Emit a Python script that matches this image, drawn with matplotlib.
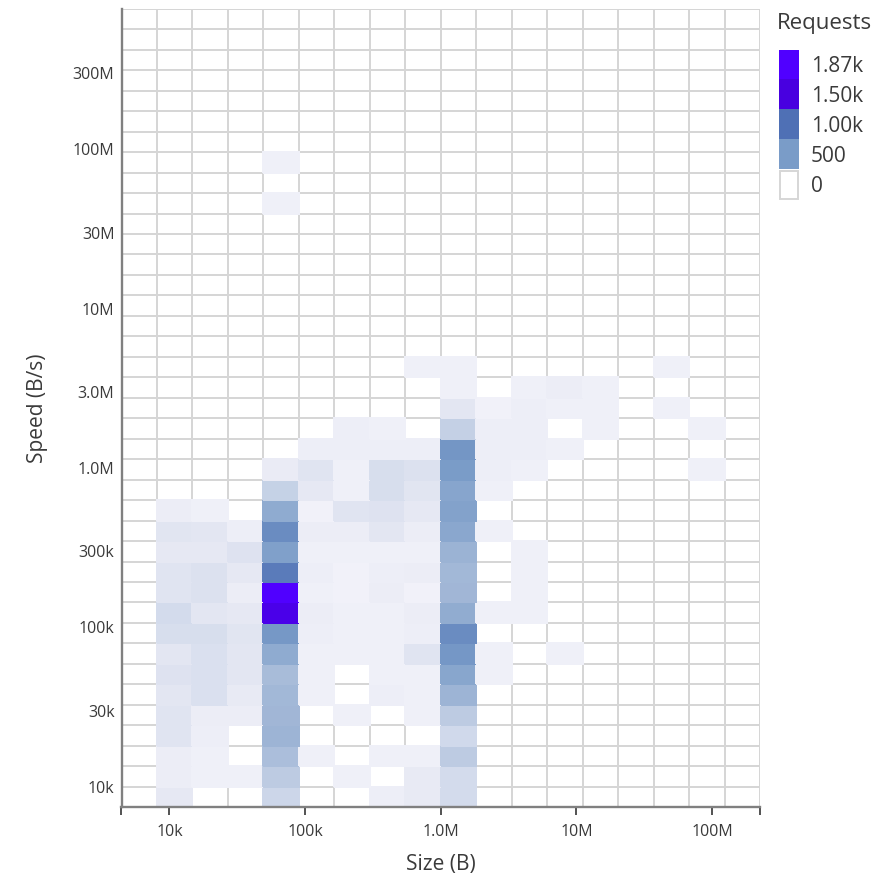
import numpy as np
import matplotlib
matplotlib.use("Agg")
import matplotlib.pyplot as plt
from matplotlib.colors import LinearSegmentedColormap, ListedColormap, Normalize
from matplotlib.patches import Rectangle
from matplotlib.ticker import FixedLocator, FixedFormatter, NullFormatter

plt.rcParams["font.family"] = ["Open Sans", "DejaVu Sans"]

# Log10 bin edges: 18 size bins, 39 speed bins
size_edges_log10 = 6 + 0.2615 * (np.arange(19) - 9)
speed_edges_log10 = 4 + 0.1285 * (np.arange(40) - 1)

# Request counts per size bin, listed from the slowest speed bin upwards
requests_by_size_bin = [
    [],
    [46, 29, 29, 76, 76, 63, 84, 63, 113, 126, 76, 76, 46, 71, 25],
    [0, 8, 13, 21, 29, 100, 100, 100, 113, 63, 92, 92, 46, 59, 8],
    [0, 8, 0, 0, 29, 38, 59, 59, 71, 46, 25, 46, 84, 21],
    [155, 223, 298, 353, 340, 332, 311, 416, 546, 1600, 1870, 872, 480, 686,
     416, 189, 30, 0, 0, 0, 0, 0, 0, 0, 0, 0, 0, 0, 0, 8, 0, 8],
    [0, 0, 13, 0, 0, 8, 8, 8, 21, 25, 13, 21, 13, 25, 4, 46, 76, 21],
    [0, 13, 0, 0, 13, 0, 0, 8, 13, 13, 4, 4, 13, 25, 76, 8, 8, 21, 21],
    [21, 0, 8, 0, 0, 21, 13, 13, 13, 13, 25, 21, 13, 59, 84, 113, 113, 21, 8],
    [38, 38, 8, 0, 8, 8, 8, 76, 21, 25, 4, 25, 13, 25, 46, 67, 92, 21, 0, 0, 0, 8],
    [126, 126, 223, 139, 223, 357, 441, 558, 686, 408, 340, 332, 361, 433, 466,
     450, 500, 570, 197, 59, 8, 8],
    [0, 0, 0, 0, 0, 0, 8, 8, 0, 8, 0, 0, 0, 8, 0, 8, 21, 21, 21, 4],
    [0, 0, 0, 0, 0, 0, 0, 0, 0, 8, 8, 8, 8, 0, 0, 0, 8, 21, 21, 17, 8],
    [0, 0, 0, 0, 0, 0, 0, 8, 0, 0, 0, 0, 0, 0, 0, 0, 0, 8, 0, 8, 25],
    [0, 0, 0, 0, 0, 0, 0, 0, 0, 0, 0, 0, 0, 0, 0, 0, 0, 0, 8, 8, 8],
    [],
    [0, 0, 0, 0, 0, 0, 0, 0, 0, 0, 0, 0, 0, 0, 0, 0, 0, 0, 0, 8, 0, 8],
    [0, 0, 0, 0, 0, 0, 0, 0, 0, 0, 0, 0, 0, 0, 0, 0, 8, 0, 8],
    [],
]

size_ticks = [1e4, 1e5, 1e6, 1e7, 1e8]
size_tick_labels = ["10k", "100k", "1.0M", "10M", "100M"]
speed_ticks = [1e4, 3e4, 1e5, 3e5, 1e6, 3e6, 1e7, 3e7, 1e8, 3e8]
speed_tick_labels = ["10k", "30k", "100k", "300k", "1.0M", "3.0M",
                     "10M", "30M", "100M", "300M"]

legend_values = [1870, 1500, 1000, 500, 0]
legend_labels = ["1.87k", "1.50k", "1.00k", "500", "0"]

# Colour ramp anchored at request counts
ramp_counts = [0, 46, 126, 223, 340, 500, 1000, 1500, 1870]
ramp_colors = ["#f1f1f9", "#e6e8f3", "#d3dbec", "#bccbe2", "#a0b6d6",
               "#7a9cc8", "#4f70b5", "#4800e0", "#5000ff"]

# ---------------------------------------------------------------------------
x_edges = 10.0 ** size_edges_log10
y_edges = 10.0 ** speed_edges_log10
n_x, n_y = len(x_edges) - 1, len(y_edges) - 1

counts = np.zeros((n_y, n_x))
for col, column in enumerate(requests_by_size_bin):
    counts[:len(column), col] = column

vmax = counts.max()
cmap = LinearSegmentedColormap.from_list(
    "requests", [(c / vmax, col) for c, col in zip(ramp_counts, ramp_colors)])
norm = Normalize(0, vmax)

W, H = 889, 882
fig = plt.figure(figsize=(W / 100, H / 100), dpi=100)
ax_l, ax_r, ax_t, ax_b = 121.5, 760.0, 8.8, 807.2
ax = fig.add_axes([ax_l / W, 1 - ax_b / H, (ax_r - ax_l) / W, (ax_b - ax_t) / H])

grid_gray = "#d6d6d6"
ax.pcolormesh(x_edges, y_edges, np.zeros_like(counts),
              cmap=ListedColormap(["white"]), edgecolors=grid_gray,
              linewidth=1.4, zorder=1)
ax.pcolormesh(x_edges, y_edges, np.ma.masked_equal(counts, 0),
              cmap=cmap, norm=norm, edgecolors="face", linewidth=0.3, zorder=2)

ax.set_xscale("log")
ax.set_yscale("log")
ax.set_xlim(x_edges[0], x_edges[-1])
ax.set_ylim(y_edges[0], y_edges[-1])

for side in ("top", "right"):
    ax.spines[side].set_visible(False)
axis_gray = "#808080"
for side in ("left", "bottom"):
    ax.spines[side].set_color(axis_gray)
    ax.spines[side].set_linewidth(1.7)
    ax.spines[side].set_zorder(5)

ax.xaxis.set_major_locator(FixedLocator(size_ticks))
ax.xaxis.set_major_formatter(FixedFormatter(size_tick_labels))
ax.xaxis.set_minor_locator(FixedLocator([x_edges[0], x_edges[-1]]))
ax.xaxis.set_minor_formatter(NullFormatter())
ax.yaxis.set_major_locator(FixedLocator(speed_ticks))
ax.yaxis.set_major_formatter(FixedFormatter(speed_tick_labels))
ax.yaxis.set_minor_locator(FixedLocator([]))

text_color = "#3a3a3a"
ax.tick_params(axis="x", which="both", direction="out", length=6, width=1.3,
               color="#444444", labelsize=11.5, labelcolor=text_color, pad=6)
ax.tick_params(axis="y", which="both", length=0, labelsize=11.5,
               labelcolor=text_color, pad=5)

ax.set_xlabel("Size (B)", fontsize=15, color=text_color, labelpad=10)
ax.set_ylabel("Speed (B/s)", fontsize=15, color=text_color, labelpad=18)

# Legend: colour swatches evaluated from the same scale
leg = fig.add_axes([0, 0, 1, 1], facecolor="none")
leg.set_xlim(0, W)
leg.set_ylim(H, 0)
leg.axis("off")
leg.text(777, 23, "Requests", fontsize=16, color=text_color,
         ha="left", va="center")
sw_x, sw_w = 778.5, 20.5
sw_top, sw_h = 49.5, 29.8
for i, (val, lab) in enumerate(zip(legend_values, legend_labels)):
    y0 = sw_top + i * sw_h
    if val > 0:
        leg.add_patch(Rectangle((sw_x, y0), sw_w, sw_h,
                                facecolor=cmap(norm(val)), edgecolor="none"))
    else:
        leg.add_patch(Rectangle((sw_x + 1, y0 + 2), sw_w - 2, sw_h - 2,
                                facecolor="white", edgecolor=grid_gray,
                                linewidth=1.4))
    leg.text(811, y0 + sw_h / 2 + 2.5, lab, fontsize=15, color=text_color,
             ha="left", va="center")

fig.savefig("out.png", dpi=100, facecolor="white")
